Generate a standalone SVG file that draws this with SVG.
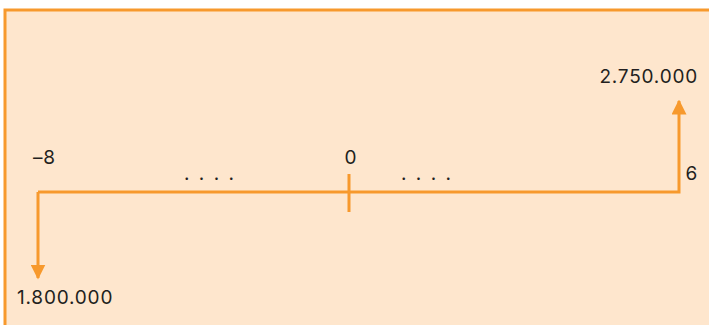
<svg xmlns="http://www.w3.org/2000/svg" width="709" height="325" viewBox="0 0 709 325">
<style>
.ln{stroke:#F7992D;stroke-width:3;fill:none}
.t{font-family:Inter,"Liberation Sans",Arial,sans-serif;font-size:19px;fill:#231f20;letter-spacing:0.8px}
.d{letter-spacing:2px}
</style>
<defs>
<marker id="ah" viewBox="0 0 10 10" refX="9" refY="5" markerWidth="5" markerHeight="5" orient="auto" markerUnits="strokeWidth">
<path d="M0,0 L10,5 L0,10 Z" fill="#F7992D"/>
</marker>
</defs>
<rect x="5" y="10" width="710" height="320" fill="#FEE6CD" stroke="#F7992D" stroke-width="3"/>
<g id="connectors">
<path class="ln" d="M38,192 H679 V101" marker-end="url(#ah)"/>
<path class="ln" d="M38,192 V278" marker-end="url(#ah)"/>
<line class="ln" x1="349" y1="174" x2="349" y2="212"/>
</g>
<g id="labels">
<text class="t" x="33" y="164">–8</text>
<text class="t" x="351" y="164" text-anchor="middle">0</text>
<text class="t" x="698" y="83" text-anchor="end">2.750.000</text>
<text class="t" x="698" y="180" text-anchor="end">6</text>
<text class="t" x="17" y="304">1.800.000</text>
<text class="t d" x="184" y="180">. . . .</text>
<text class="t d" x="401" y="180">. . . .</text>
</g>
</svg>
